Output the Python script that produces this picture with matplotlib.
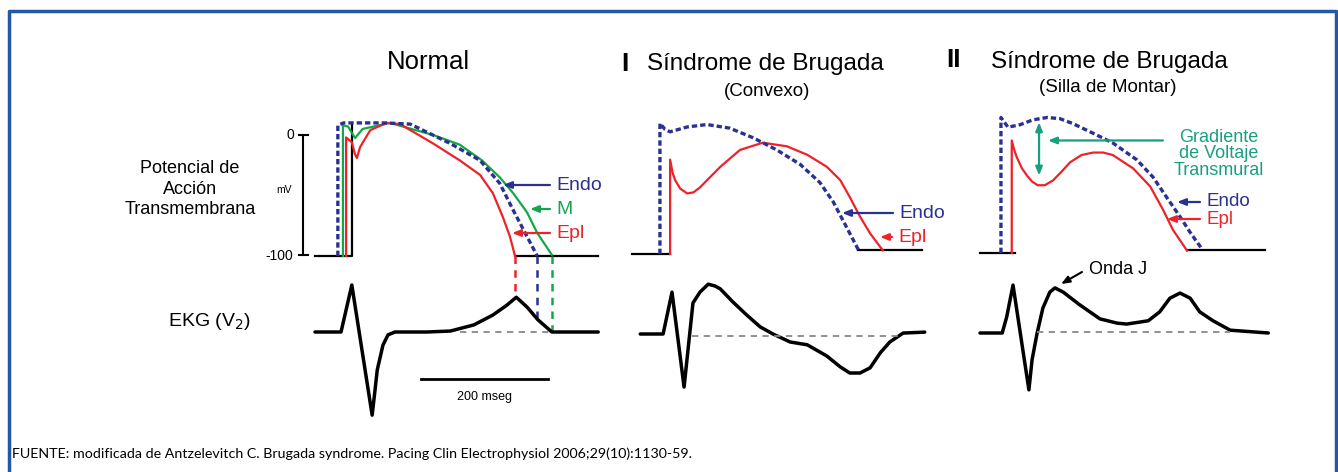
import numpy as np
import matplotlib
matplotlib.use("Agg")
import matplotlib.pyplot as plt

plt.rcParams['font.family'] = ['Liberation Sans', 'DejaVu Sans']

# ---- data: action potentials (t in ms, v in mV) and ECG (t in ms, arbitrary units) ----
# Normal
normal_endo_t = [36, 36, 45, 110, 150, 213, 260, 291, 312, 334, 350]
normal_endo_v = [-100, 8, 10, 10, 9, -7, -21, -40, -62, -84, -100]
normal_m_t = [44, 44, 52, 63, 75, 118, 186, 228, 263, 291, 312, 334, 350, 373]
normal_m_v = [-100, 8, 7, -2.5, 5, 10, 0, -8, -21, -35, -48, -64, -81, -99]
normal_epi_t = [49, 49, 58, 63, 66, 71, 87, 113, 134, 186, 228, 260, 280, 296, 307, 315]
normal_epi_v = [-100, -2, -6, -16, -19, -10, 4, 10, 9, -7, -21, -33, -48, -68, -84, -100]
normal_ecg_t = [0, 41, 58, 90, 94, 98, 107, 115, 126, 176, 213, 250, 280, 302, 317, 334, 351, 373, 446]
normal_ecg_v = [0, 0, 1.0, -1.77, -1.3, -0.81, -0.28, -0.06, 0, 0, 0.02, 0.15, 0.36, 0.57, 0.74,
                0.53, 0.26, 0, 0]

# Brugada tipo I (convexo)
b1_endo_t = [44, 44, 52, 60, 87, 118, 154, 191, 228, 265, 296, 317, 332, 348, 357]
b1_endo_v = [-100, 8, 3, 1, 5, 7, 4, -4, -14, -26, -41, -57, -72, -88, -97]
b1_epi_t = [60, 60, 64, 68, 76, 87, 97, 107, 122, 139, 170, 206, 244, 276, 307, 328, 343, 359,
            375, 395]
b1_epi_v = [-100, -22, -33, -39, -46, -50, -49, -45, -37, -28, -14, -8, -11, -18, -28, -39, -53,
            -69, -83, -97]
b1_ecg_t = [13, 49, 63, 82, 96, 107, 120, 131, 139, 159, 181, 202, 222, 249, 276, 307,
            328, 343, 359, 375, 391, 406, 427, 461]
b1_ecg_v = [0, 0, 0.89, -1.13, 0.66, 0.89, 1.06, 1.02, 0.96, 0.68, 0.40, 0.15, 0, -0.17,
            -0.23, -0.47, -0.70, -0.83, -0.83, -0.72, -0.40, -0.17, 0.02, 0.04]

# Brugada tipo II (silla de montar)
b2_endo_t = [33, 33, 44, 63, 83, 106, 126, 146, 178, 209, 247, 272, 294, 315, 331, 350]
b2_endo_v = [-100, 12, 4, 6, 10, 12, 11, 7, -1, -9, -23, -37, -54, -70, -83, -97]
b2_epi_t = [50, 50, 54, 58, 66, 74, 82, 91, 102, 115, 128, 142, 160, 178, 194, 209, 241, 268,
            288, 304, 326]
b2_epi_v = [-100, -7, -15, -21, -30, -36, -41, -44, -44, -40, -33, -25, -19, -17, -17, -19, -30,
            -45, -64, -81, -98]
b2_ecg_t = [0, 35, 42, 52, 77, 82, 90, 99, 110, 118, 131, 157, 189, 216, 231, 265, 283,
            299, 315, 331, 346, 367, 394, 454]
b2_ecg_v = [0, 0, 0.34, 1.02, -1.21, -0.57, 0, 0.53, 0.87, 0.96, 0.87, 0.60, 0.30, 0.21,
            0.19, 0.26, 0.45, 0.74, 0.85, 0.74, 0.45, 0.26, 0.06, 0]

titles = ["Normal", "Síndrome de Brugada", "Síndrome de Brugada"]
subtitles = ["", "(Convexo)", "(Silla de Montar)"]
footer = ("FUENTE: modificada de Antzelevitch C. Brugada syndrome. "
          "Pacing Clin Electrophysiol 2006;29(10):1130-59.")

# ---- layout (pixels) ----
PX_MS = 0.635      # px per ms  (200 ms = 127 px)
PX_MV = 1.21       # px per mV
PX_ECG = 47.0      # px per ECG unit

BLUE = "#2b3190"
RED = "#ee2229"
GREEN = "#12a84a"
TEAL = "#17a07e"
FRAME = "#2457a6"

fig = plt.figure(figsize=(13.38, 4.72), dpi=100)
ax = fig.add_axes([0, 0, 1, 1])
ax.set_xlim(0, 1338)
ax.set_ylim(472, 0)
ax.axis("off")


def ap(x0, y0, t, v):
    return x0 + np.asarray(t, float) * PX_MS, y0 - np.asarray(v, float) * PX_MV


def ecg(x0, y0, t, v):
    return x0 + np.asarray(t, float) * PX_MS, y0 - np.asarray(v, float) * PX_ECG


def endo_line(x, y):
    ax.plot(x, y, color=BLUE, lw=2.4, ls=(0, (1.6, 0.9)), solid_capstyle="butt")


def ecg_line(x, y):
    ax.plot(x, y, color="black", lw=2.5, solid_joinstyle="round", solid_capstyle="round")


def arrow(x1, x2, y, color, text=None, fs=14):
    ax.annotate("", xy=(x2, y), xytext=(x1, y),
                arrowprops=dict(arrowstyle="-|>,head_length=0.5,head_width=0.2",
                                color=color, lw=1.6, shrinkA=0, shrinkB=0))
    if text:
        ax.text(x1 + 6, y, text, color=color, fontsize=fs, va="center", ha="left")


# frame
ax.plot([9, 9, 1336, 1336], [480, 11, 11, 480], color=FRAME, lw=2.5)

# left labels
ax.text(190, 189, "Potencial de\nAcción\nTransmembrana", fontsize=13,
        ha="center", va="center", linespacing=1.3)
ax.text(168, 322, "EKG (V$_2$)", fontsize=14, ha="left", va="center")

# ---------------- Normal ----------------
x0, y0, e0 = 315, 135, 332
ax.text(428, 62, titles[0], fontsize=18.5, ha="center", va="center")

# mV scale
ax.plot([303, 303], [135, 255], color="black", lw=1.5)
ax.plot([299, 308], [135, 135], color="black", lw=1.5)
ax.plot([299, 308], [255, 255], color="black", lw=1.5)
ax.text(294, 135, "0", fontsize=10, ha="right", va="center")
ax.text(293, 256, "-100", fontsize=10, ha="right", va="center")
ax.text(284, 190, "mV", fontsize=7.5, ha="center", va="center")

bx, by = ap(x0, y0, [0, 58, 58], [-100, -100, 10])
ax.plot(bx, by, color="black", lw=1.6)
bx, by = ap(x0, y0, [315, 446], [-100, -100])
ax.plot(bx, by, color="black", lw=1.6)

ax.plot(*ap(x0, y0, normal_m_t, normal_m_v), color=GREEN, lw=1.6, solid_joinstyle="round")
ax.plot(*ap(x0, y0, normal_epi_t, normal_epi_v), color=RED, lw=1.6, solid_joinstyle="round")
endo_line(*ap(x0, y0, normal_endo_t, normal_endo_v))

# repolarisation markers down to the ECG
for t_end, col in [(normal_epi_t[-1], RED), (normal_endo_t[-1], BLUE), (normal_m_t[-1], GREEN)]:
    top = ap(x0, y0, [t_end], [-100])[1][0]
    bot = ecg(x0, e0, [t_end], [np.interp(t_end, normal_ecg_t, normal_ecg_v)])[1][0]
    ax.plot([x0 + t_end * PX_MS] * 2, [top, bot], color=col, lw=1.8, ls=(0, (3, 2.5)))

ecg_line(*ecg(x0, e0, normal_ecg_t, normal_ecg_v))
dx, dy = ecg(x0, e0, [228, 373], [0, 0])
ax.plot(dx, dy, color="#888888", lw=1.3, ls=(0, (3.5, 3)))

arrow(550, 503, 185, BLUE, "Endo")
arrow(550, 530, 209, GREEN, "M")
arrow(550, 512, 233, RED, "Epl")

# 200 ms scale bar
sx, sy = ecg(x0, 379, [167, 367], [0, 0])
ax.plot(sx, sy, color="black", lw=2)
ax.text(sx.mean(), 397, "200 mseg", fontsize=9, ha="center", va="center")

# ---------------- Brugada I ----------------
x0, y0, e0 = 632, 133, 334
ax.text(625, 64, "I", fontsize=19, fontweight="bold", ha="center", va="center")
ax.text(765, 64, titles[1], fontsize=17.5, ha="center", va="center")
ax.text(767, 92, subtitles[1], fontsize=13.5, ha="center", va="center")

ax.plot(*ap(x0, y0, [0, 60], [-100, -100]), color="black", lw=1.6)
ax.plot(*ap(x0, y0, [356, 457], [-97, -97]), color="black", lw=1.6)
ax.plot(*ap(x0, y0, b1_epi_t, b1_epi_v), color=RED, lw=1.6, solid_joinstyle="round")
endo_line(*ap(x0, y0, b1_endo_t, b1_endo_v))

ecg_line(*ecg(x0, e0, b1_ecg_t, b1_ecg_v))
ax.plot(*ecg(x0, e0, [94, 427], [-0.04, -0.04]), color="#888888", lw=1.3, ls=(0, (3.5, 3)))

arrow(893, 842, 213, BLUE, "Endo")
arrow(892, 880, 237, RED, "Epl")

# ---------------- Brugada II ----------------
x0, y0, e0 = 980, 132, 333
ax.text(953, 60, "II", fontsize=19, fontweight="bold", ha="center", va="center")
ax.text(1109, 62, titles[2], fontsize=17.5, ha="center", va="center")
ax.text(1108, 88, subtitles[2], fontsize=13.5, ha="center", va="center")

ax.plot(*ap(x0, y0, [0, 55], [-100, -100]), color="black", lw=1.6)
ax.plot(*ap(x0, y0, [326, 449], [-97.5, -97.5]), color="black", lw=1.6)
ax.plot(*ap(x0, y0, b2_epi_t, b2_epi_v), color=RED, lw=1.6, solid_joinstyle="round")
endo_line(*ap(x0, y0, b2_endo_t, b2_endo_v))

ecg_line(*ecg(x0, e0, b2_ecg_t, b2_ecg_v))
ax.plot(*ecg(x0, e0, [90, 394], [0.02, 0.02]), color="#888888", lw=1.3, ls=(0, (3.5, 3)))

# transmural gradient
gx, gy = ap(x0, y0, [93, 93], [8, -36])
ax.annotate("", xy=(gx[0], gy[0]), xytext=(gx[1], gy[1]),
            arrowprops=dict(arrowstyle="<|-|>,head_length=0.5,head_width=0.2",
                            color=TEAL, lw=1.6, shrinkA=0, shrinkB=0))
hx, hy = ap(x0, y0, [288, 107], [-7, -7])
ax.annotate("", xy=(hx[1], hy[1]), xytext=(hx[0], hy[0]),
            arrowprops=dict(arrowstyle="-|>,head_length=0.5,head_width=0.2",
                            color=TEAL, lw=1.6, shrinkA=0, shrinkB=0))
ax.text(1219, 154, "Gradiente\nde Voltaje\nTransmural", color=TEAL, fontsize=13,
        ha="center", va="center", linespacing=0.95)

arrow(1200, 1177, 202, BLUE, "Endo", fs=13.5)
arrow(1200, 1167, 219, RED, "Epl", fs=13.5)

ax.annotate("", xy=(1061, 284), xytext=(1082, 272),
            arrowprops=dict(arrowstyle="-|>,head_length=0.5,head_width=0.2",
                            color="black", lw=1.5, shrinkA=0, shrinkB=0))
ax.text(1089, 270, "Onda J", fontsize=13, ha="left", va="center")

# footer
ax.text(12, 454, footer, fontsize=10.3, ha="left", va="center", family=["Lato", "DejaVu Sans"])

fig.savefig("out.png", dpi=100)
